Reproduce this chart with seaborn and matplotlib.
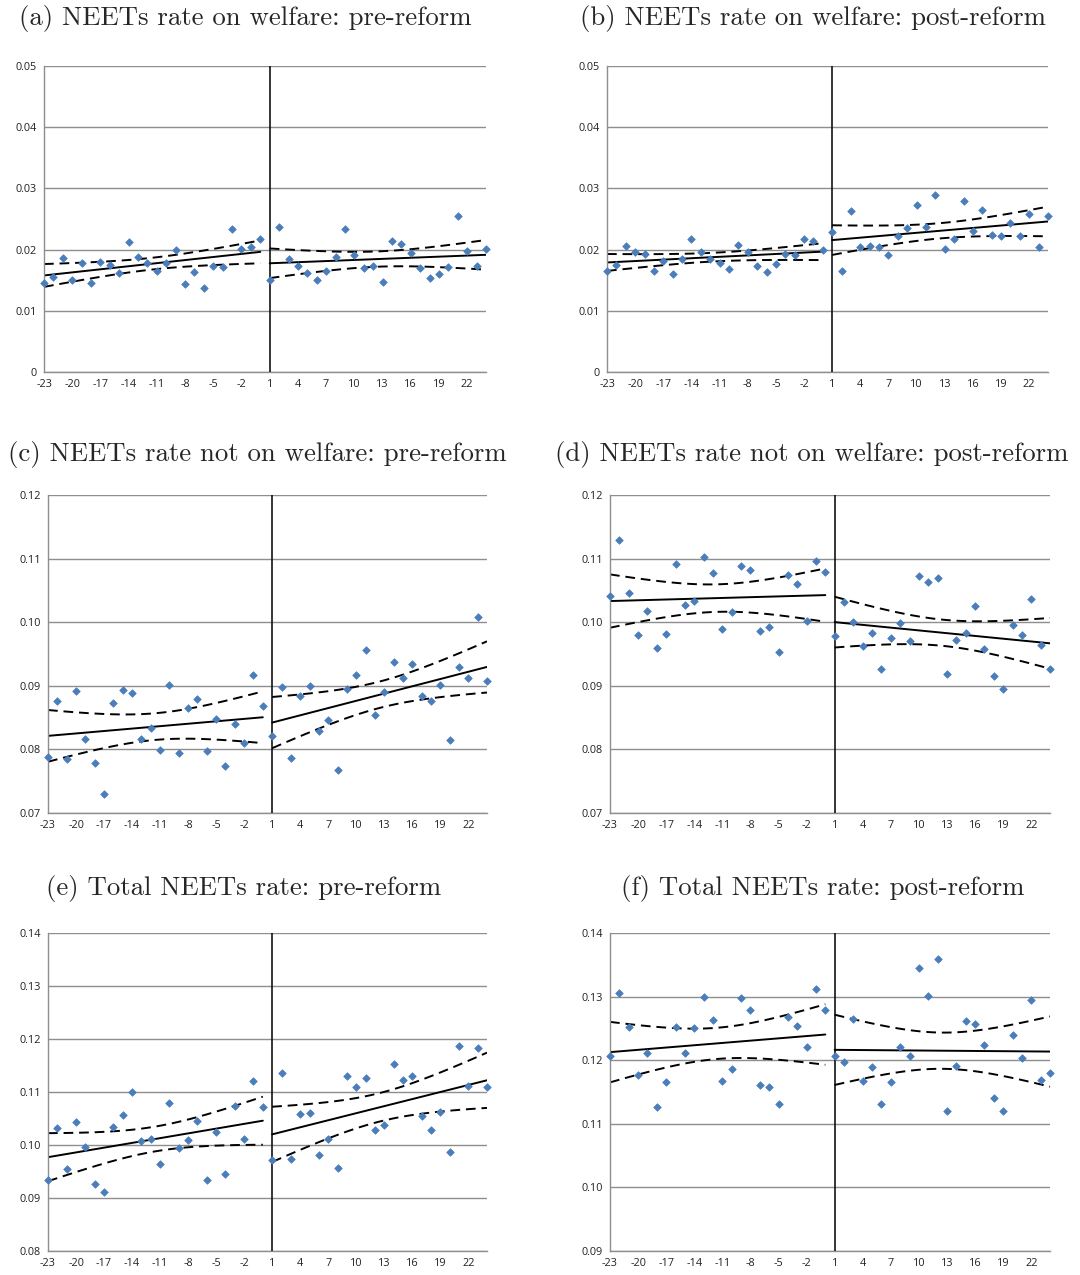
import numpy as np
import pandas as pd
import matplotlib
matplotlib.use("Agg")
import matplotlib.pyplot as plt
import seaborn as sns

sns.set_style("white")
plt.rcParams['font.family'] = ['Open Sans', 'DejaVu Sans']

# months relative to the cutoff
x_pre = list(range(-23, 1))
x_post = list(range(1, 25))
xticks = list(range(-23, 23, 3))

# (a) on welfare, pre-reform
a_pre = [0.01461, 0.01549, 0.01859, 0.01499, 0.01783, 0.01461, 0.01799, 0.01756,
         0.01619, 0.02127, 0.01887, 0.01783, 0.01652, 0.01783, 0.01990, 0.01434,
         0.01641, 0.01374, 0.01739, 0.01718, 0.02339, 0.02012, 0.02039, 0.02181]
a_post = [0.01499, 0.02372, 0.01848, 0.01739, 0.01614, 0.01505, 0.01647, 0.01881,
          0.02339, 0.01919, 0.01701, 0.01739, 0.01472, 0.02148, 0.02088, 0.01952,
          0.01701, 0.01532, 0.01603, 0.01718, 0.02557, 0.01985, 0.01728, 0.02007]
# (b) on welfare, post-reform
b_pre = [0.01658, 0.01756, 0.02061, 0.01957, 0.01930, 0.01652, 0.01810, 0.01603,
         0.01848, 0.02181, 0.01957, 0.01843, 0.01783, 0.01690, 0.02072, 0.01968,
         0.01739, 0.01641, 0.01772, 0.01936, 0.01908, 0.02176, 0.02143, 0.01996]
b_post = [0.02285, 0.01652, 0.02628, 0.02039, 0.02061, 0.02039, 0.01908, 0.02219,
          0.02350, 0.02721, 0.02372, 0.02890, 0.02007, 0.02170, 0.02792, 0.02312,
          0.02650, 0.02241, 0.02230, 0.02437, 0.02219, 0.02579, 0.02039, 0.02541]
# (c) not on welfare, pre-reform
c_pre = [0.07880, 0.08754, 0.07850, 0.08916, 0.08168, 0.07785, 0.07298, 0.08728,
         0.08927, 0.08880, 0.08168, 0.08335, 0.07990, 0.09005, 0.07948, 0.08649,
         0.08796, 0.07979, 0.08476, 0.07738, 0.08398, 0.08094, 0.09168, 0.08686]
c_post = [0.08209, 0.08979, 0.07869, 0.08838, 0.08995, 0.08293, 0.08461, 0.07681,
          0.08948, 0.09173, 0.09560, 0.08539, 0.08895, 0.09382, 0.09126, 0.09340,
          0.08838, 0.08759, 0.09005, 0.08141, 0.09298, 0.09126, 0.10089, 0.09079]
# (d) not on welfare, post-reform
d_pre = [0.10408, 0.11298, 0.10466, 0.09806, 0.10178, 0.09597, 0.09817, 0.10916,
         0.10277, 0.10330, 0.11026, 0.10775, 0.09890, 0.10168, 0.10890, 0.10817,
         0.09859, 0.09927, 0.09534, 0.10743, 0.10607, 0.10026, 0.10963, 0.10785]
d_post = [0.09790, 0.10314, 0.10005, 0.09628, 0.09827, 0.09257, 0.09749, 0.09984,
          0.09707, 0.10728, 0.10639, 0.10691, 0.09178, 0.09717, 0.09827, 0.10257,
          0.09586, 0.09157, 0.08953, 0.09958, 0.09806, 0.10366, 0.09639, 0.09267]
# (e) total, pre-reform
e_pre = [0.09338, 0.10312, 0.09539, 0.10425, 0.09954, 0.09256, 0.09106, 0.10343,
         0.10557, 0.11003, 0.10067, 0.10117, 0.09646, 0.10795, 0.09935, 0.10085,
         0.10450, 0.09338, 0.10236, 0.09451, 0.10745, 0.10117, 0.11216, 0.10714]
e_post = [0.09709, 0.11354, 0.09727, 0.10582, 0.10613, 0.09803, 0.10104, 0.09564,
          0.11298, 0.11090, 0.11266, 0.10286, 0.10374, 0.11536, 0.11229, 0.11304,
          0.10544, 0.10286, 0.10626, 0.09866, 0.11869, 0.11116, 0.11825, 0.11097]
# (f) total, post-reform
f_pre = [0.12073, 0.13058, 0.12524, 0.11764, 0.12115, 0.11257, 0.11654, 0.12524,
         0.12120, 0.12513, 0.12995, 0.12628, 0.11675, 0.11864, 0.12974, 0.12796,
         0.11607, 0.11576, 0.11314, 0.12686, 0.12534, 0.12215, 0.13115, 0.12785]
f_post = [0.12073, 0.11974, 0.12644, 0.11675, 0.11895, 0.11304, 0.11654, 0.12215,
          0.12063, 0.13455, 0.13016, 0.13586, 0.11194, 0.11906, 0.12623, 0.12576,
          0.12246, 0.11403, 0.11204, 0.12403, 0.12031, 0.12953, 0.11686, 0.11806]

titles = ["(a) NEETs rate on welfare: pre-reform",
          "(b) NEETs rate on welfare: post-reform",
          "(c) NEETs rate not on welfare: pre-reform",
          "(d) NEETs rate not on welfare: post-reform",
          "(e) Total NEETs rate: pre-reform",
          "(f) Total NEETs rate: post-reform"]
series = [(a_pre, a_post), (b_pre, b_post), (c_pre, c_post),
          (d_pre, d_post), (e_pre, e_post), (f_pre, f_post)]
ylims = [(0, 0.05), (0, 0.05), (0.07, 0.12), (0.07, 0.12), (0.08, 0.14), (0.09, 0.14)]

# axes boxes in pixels: left, top, right, bottom
boxes = [(44, 66, 486, 372), (607, 66, 1048, 372),
         (48, 495, 487, 813), (610, 495, 1050, 813),
         (48, 933, 487, 1251), (610, 933, 1050, 1251)]
title_pos = [(245, 19), (813, 19), (257, 454), (812, 454), (244, 889), (823, 889)]

W, H = 1080, 1275
fig = plt.figure(figsize=(W / 100, H / 100), dpi=100)
GRID = '#8e8e8e'
BLUE = '#4a7ebb'


def fit_with_band(x, y):
    # OLS line with 95% confidence band for the mean
    x = np.asarray(x, float)
    y = np.asarray(y, float)
    n = len(x)
    b, a = np.polyfit(x, y, 1)
    resid = y - (a + b * x)
    s = np.sqrt(np.sum(resid ** 2) / (n - 2))
    sxx = np.sum((x - x.mean()) ** 2)
    xs = np.linspace(x.min(), x.max(), 100)
    yhat = a + b * xs
    half = 2.074 * s * np.sqrt(1 / n + (xs - x.mean()) ** 2 / sxx)
    return xs, yhat, yhat - half, yhat + half


for i in range(6):
    l, t, r, btm = boxes[i]
    ax = fig.add_axes([l / W, 1 - btm / H, (r - l) / W, (btm - t) / H])
    pre, post = series[i]
    df = pd.DataFrame({"month": x_pre + x_post, "rate": pre + post})
    for xx, yy in ((x_pre, pre), (x_post, post)):
        xs, yhat, lo, hi = fit_with_band(xx, yy)
        sns.lineplot(x=xs, y=yhat, ax=ax, color='black', lw=1.4)
        sns.lineplot(x=xs, y=lo, ax=ax, color='black', lw=1.4,
                     linestyle=(0, (5, 3)))
        sns.lineplot(x=xs, y=hi, ax=ax, color='black', lw=1.4,
                     linestyle=(0, (5, 3)))
    sns.scatterplot(data=df, x="month", y="rate", ax=ax, marker='D', s=15,
                    color=BLUE, edgecolor=BLUE, linewidth=0.5, zorder=5, clip_on=False)
    ax.axvline(1, color='black', lw=1.1, zorder=4)

    lo_y, hi_y = ylims[i]
    ax.set_xlim(-23, 24)
    ax.set_ylim(lo_y, hi_y)
    yt = np.round(np.arange(lo_y, hi_y + 1e-9, 0.01), 2)
    ax.set_yticks(yt)
    ax.set_yticklabels(['0' if v == 0 else f'{v:.2f}' for v in yt])
    ax.set_xticks(xticks)
    ax.set_xticklabels([str(v) for v in xticks])
    ax.set_xlabel('')
    ax.set_ylabel('')
    ax.grid(axis='y', color=GRID, lw=1.0)
    ax.grid(axis='x', visible=False)
    for sp in ('top', 'right'):
        ax.spines[sp].set_visible(False)
    for sp in ('left', 'bottom'):
        ax.spines[sp].set_color(GRID)
        ax.spines[sp].set_linewidth(1.0)
    ax.tick_params(axis='both', length=3, color=GRID, labelsize=7.8,
                   labelcolor='#222222', pad=2)

    tx, ty = title_pos[i]
    fig.text(tx / W, 1 - ty / H, titles[i], ha='center', va='center',
             family='cmr10', fontsize=19.3)

fig.savefig('out.png', dpi=100)
